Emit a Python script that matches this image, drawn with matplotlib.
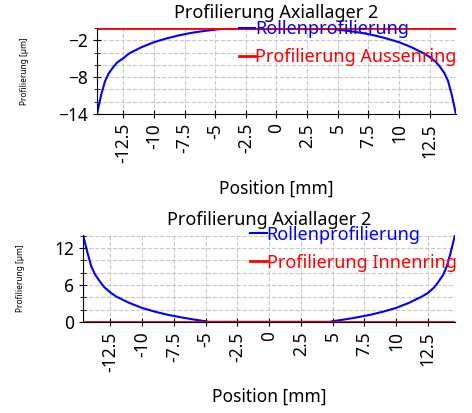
import matplotlib

matplotlib.use("Agg")
import matplotlib.pyplot as plt
from matplotlib.ticker import MultipleLocator

plt.rcParams["font.family"] = ["Noto Sans", "DejaVu Sans"]

TITLE = "Profilierung Axiallager 2"
XLABEL = "Position [mm]"
YLABEL = "Profilierung [µm]"

# roller profile, top panel (negative, outer ring side)
roller_x_top = [-14.65, -14.3, -14.0, -13.7, -13.3, -13.0, -12.5, -12.0, -11.0, -10.0,
                -9.0, -8.0, -7.0, -6.0, -5.0, -4.6, 4.6, 5.0, 6.0, 7.0, 8.0, 9.0,
                10.0, 11.0, 12.0, 12.5, 13.0, 13.3, 13.7, 14.0, 14.3, 14.65]
roller_y_top = [-14.0, -10.8, -8.7, -7.4, -6.3, -5.6, -4.9, -4.1, -3.1, -2.3,
                -1.7, -1.2, -0.8, -0.5, -0.25, -0.15, -0.15, -0.25, -0.5, -0.8, -1.2, -1.7,
                -2.3, -3.1, -4.1, -4.7, -5.5, -6.2, -7.3, -8.6, -10.8, -14.0]
outer_x = [-14.65, 14.65]
outer_y = [0.0, 0.0]

# roller profile, bottom panel (positive, inner ring side)
roller_x_bot = [-14.65, -14.3, -14.0, -13.7, -13.3, -13.0, -12.5, -12.0, -11.0, -10.0,
                -9.0, -8.0, -7.0, -6.0, -5.0, -4.8, 4.8, 5.0, 6.0, 7.0, 8.0, 9.0,
                10.0, 11.0, 12.0, 12.5, 13.0, 13.3, 13.7, 14.0, 14.3, 14.65]
roller_y_bot = [14.1, 11.2, 9.0, 7.7, 6.5, 5.7, 4.8, 4.1, 3.1, 2.3,
                1.7, 1.2, 0.8, 0.45, 0.15, 0.05, 0.05, 0.15, 0.45, 0.8, 1.2, 1.7,
                2.3, 3.1, 4.1, 4.7, 5.6, 6.4, 7.6, 9.0, 11.2, 14.1]
inner_x = [-14.65, 14.65]
inner_y = [0.0, 0.0]

xticks = [-12.5, -10, -7.5, -5, -2.5, 0, 2.5, 5, 7.5, 10, 12.5]
xticklabels = ["-12.5", "-10", "-7.5", "-5", "-2.5", "0", "2.5", "5", "7.5", "10", "12.5"]
yticks_top = [-2, -8, -14]
yticks_bot = [0, 6, 12]

fig = plt.figure(figsize=(4.72, 4.13), dpi=100)
ax1 = fig.add_axes([0.2055, 0.724, 0.7605, 0.208])
ax2 = fig.add_axes([0.176, 0.220, 0.788, 0.211])


def style(ax, yticks, ylim, red_label, roller_x, roller_y, red_x, red_y, leg_anchor, ypad):
    ax.plot(roller_x, roller_y, color="blue", lw=1.5, label="Rollenprofilierung")
    ax.plot(red_x, red_y, color="red", lw=2.0, label=red_label)
    ax.set_xlim(-14.65, 14.65)
    ax.set_ylim(*ylim)
    ax.set_xticks(xticks)
    ax.set_xticklabels(xticklabels, rotation=90)
    ax.set_yticks(yticks)
    ax.yaxis.set_minor_locator(MultipleLocator(2))
    ax.grid(True, which="both", color="#c8c8c8", ls="--", lw=0.8)
    ax.set_axisbelow(True)
    for s in ("top", "right"):
        ax.spines[s].set_visible(False)
    ax.tick_params(axis="both", which="major", direction="inout", length=6, labelsize=12.5)
    ax.tick_params(axis="y", which="minor", direction="inout", length=4)
    ax.set_title(TITLE, fontsize=13, pad=7)
    ax.set_xlabel(XLABEL, fontsize=12.5, labelpad=12)
    ax.set_ylabel(YLABEL, fontsize=6, labelpad=ypad)
    leg = ax.legend(loc="upper left", bbox_to_anchor=leg_anchor, frameon=False,
                    fontsize=13, handlelength=0.9, handletextpad=0.0,
                    labelspacing=0.55, borderaxespad=0, borderpad=0)
    for txt, c in zip(leg.get_texts(), ["blue", "red"]):
        txt.set_color(c)


style(ax1, yticks_top, (-14, 0), "Profilierung Aussenring",
      roller_x_top, roller_y_top, outer_x, outer_y, (0.395, 1.095), 21)
style(ax2, yticks_bot, (0, 14.1), "Profilierung Innenring",
      roller_x_bot, roller_y_bot, inner_x, inner_y, (0.45, 1.107), 21)

fig.savefig("out.png", dpi=100)
